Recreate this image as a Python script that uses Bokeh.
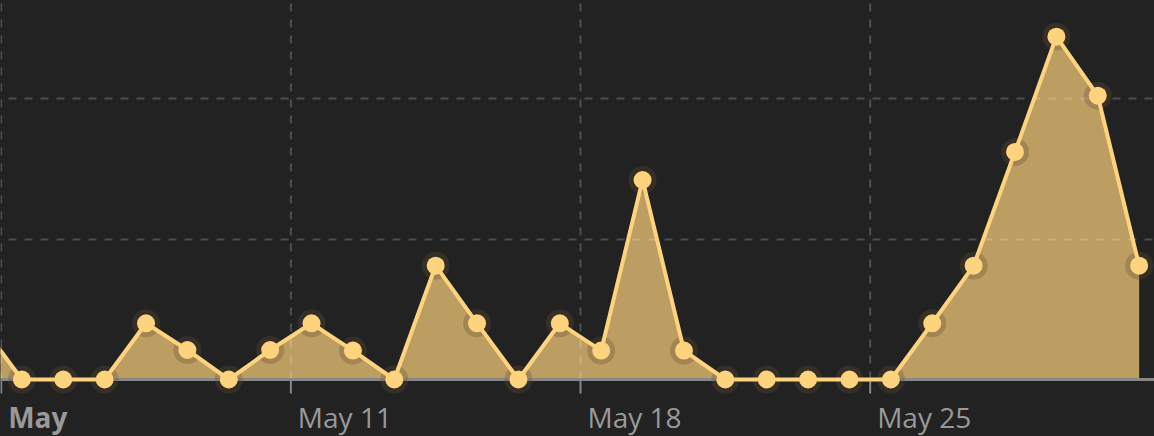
from datetime import timedelta
import pandas as pd
from bokeh.plotting import figure
from bokeh.models import Range1d, ColumnDataSource
from bokeh.core.properties import value
from bokeh.embed import file_html
from bokeh.resources import INLINE

# ---- data ----
dates = list(pd.date_range("2024-05-03 12:00", "2024-05-31 12:00", freq="D").to_pydatetime())
counts = [2.0, 0, 0, 0, 2.0, 1.05, 0, 1.05, 2.0, 1.03, 0, 4.05, 2.0, 0, 2.0, 1.03, 7.1, 1.03,
          0, 0, 0, 0, 0, 2.0, 4.05, 8.1, 12.2, 10.1, 4.05]
tick_dates = list(pd.to_datetime(["2024-05-04", "2024-05-11", "2024-05-18", "2024-05-25"]).to_pydatetime())
tick_labels = ["May", "May 11", "May 18", "May 25"]
tick_styles = ["bold", "normal", "normal", "normal"]
y_grid = [5, 10]

# ---- layout / style ----
W, H = 1154, 436
DAY_PX = 41.38
UNIT_PX = 28.1
BASE_PX = 379
GOLD = "#fed37e"
BG = "#222222"
AXIS = "#888888"

x_start = tick_dates[0] - timedelta(hours=0.4)
x_end = x_start + timedelta(days=W / DAY_PX)
y_top = BASE_PX / UNIT_PX
y_bot = -(H - BASE_PX) / UNIT_PX

p = figure(width=W, height=H, x_axis_type="datetime",
           x_range=Range1d(x_start, x_end), y_range=Range1d(y_bot, y_top),
           x_axis_location=None, y_axis_location=None,
           toolbar_location=None, output_backend="svg", min_border=0,
           background_fill_color=BG, border_fill_color=BG, outline_line_color=None)
p.xgrid.visible = False
p.ygrid.visible = False

src = ColumnDataSource(dict(x=dates, y=counts, y0=[0] * len(counts)))

# area
p.varea(x="x", y1="y0", y2="y", source=src, fill_color=GOLD, fill_alpha=0.7, level="image")

# grid lines (over the area)
p.hspan(y=y_grid, line_color="white", line_alpha=0.2, line_width=2, line_dash="8 8",
        line_dash_offset=8, level="underlay")
p.segment(x0=tick_dates, y0=0, x1=tick_dates, y1=y_top, line_color="white", line_alpha=0.2,
          line_width=2, line_dash="8 8", level="underlay")

# axis line and ticks
p.hspan(y=[0], line_color=AXIS, line_width=3, level="underlay")
p.segment(x0=tick_dates, y0=0, x1=tick_dates, y1=-14 / UNIT_PX, line_color=AXIS,
          line_width=2, level="underlay")

# halo, line, points
p.scatter("x", "y", source=src, size=28, fill_color="#645032", fill_alpha=0.3, line_color=None)
p.line("x", "y", source=src, line_color=GOLD, line_width=4, line_join="round")
p.scatter("x", "y", source=src, size=18, fill_color=GOLD, line_color=None)

# tick labels
lab = ColumnDataSource(dict(x=tick_dates, y=[0] * len(tick_dates), text=tick_labels, style=tick_styles))
p.text(x="x", y="y", text="text", source=lab, text_font=value("Open Sans"),
       text_font_size="28px", text_font_style=dict(field="style"), text_color="#999999",
       text_align="left", text_baseline="alphabetic", x_offset=7, y_offset=37)

html = file_html(p, INLINE)
html = html.replace("</head>", "<style>html,body{margin:0;padding:0;background:#222222;overflow:hidden}</style></head>", 1)
open("out.html", "w").write(html)
